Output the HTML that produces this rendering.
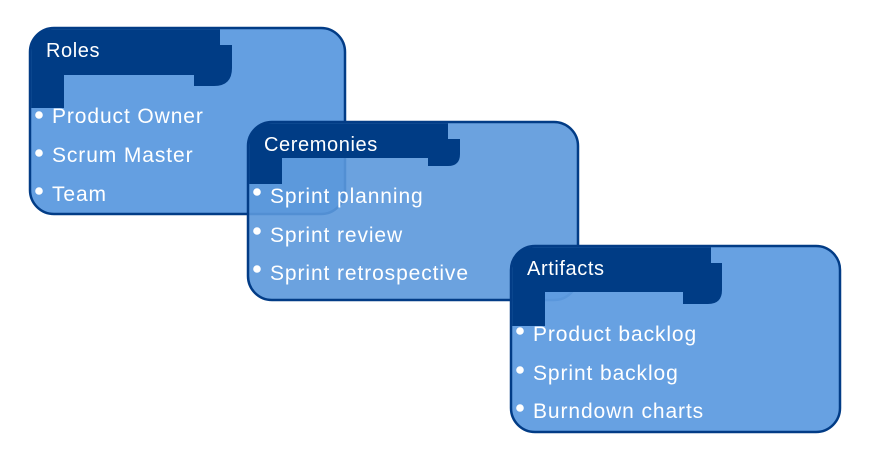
<!DOCTYPE html>
<html><head><meta charset="utf-8"><style>
html,body{margin:0;padding:0;background:#fff;width:872px;height:461px;overflow:hidden}
svg text{font-family:"Liberation Sans",sans-serif;fill:#fff}
.it{font-size:21px;letter-spacing:0.9px}
.hd{font-size:20px;letter-spacing:0.6px}
</style></head><body>
<svg width="872" height="461" viewBox="0 0 872 461">
<g transform="translate(30,28)">
<rect x="0" y="0" width="315" height="186" rx="24" fill="#5f9ce0" fill-opacity="0.97" stroke="#023c86" stroke-width="2.5"/>
<path d="M1.2,24 Q1.2,1.2 24,1.2 H190 V17 H202 V40 Q202,58 184,58 H164 V47 H34 V80 H1.2 Z" fill="#003c85"/>
<text x="16" y="29" class="hd">Roles</text>
<circle cx="9" cy="87" r="3.8" fill="#fff"/><text x="22" y="95" class="it">Product Owner</text>
<circle cx="9" cy="125" r="3.8" fill="#fff"/><text x="22" y="134" class="it">Scrum Master</text>
<circle cx="9" cy="163" r="3.8" fill="#fff"/><text x="22" y="173" class="it">Team</text>
</g>
<g transform="translate(248,122)">
<rect x="0" y="0" width="330" height="178" rx="24" fill="#5b98dc" fill-opacity="0.9" stroke="#023c86" stroke-width="2.5"/>
<path d="M1.2,24 Q1.2,1.2 24,1.2 H200 V17 H212 V32 Q212,44 200,44 H180 V36 H34 V62 H1.2 Z" fill="#003c85"/>
<text x="16" y="29" class="hd">Ceremonies</text>
<circle cx="9" cy="70" r="3.8" fill="#fff"/><text x="22" y="81" class="it">Sprint planning</text>
<circle cx="9" cy="109" r="3.8" fill="#fff"/><text x="22" y="120" class="it">Sprint review</text>
<circle cx="9" cy="147" r="3.8" fill="#fff"/><text x="22" y="158" class="it">Sprint retrospective</text>
</g>
<g transform="translate(511,246)">
<rect x="0" y="0" width="329" height="186" rx="24" fill="#5f9ce0" fill-opacity="0.95" stroke="#023c86" stroke-width="2.5"/>
<path d="M1.2,24 Q1.2,1.2 24,1.2 H200 V17 H211 V44 Q211,58 197,58 H172 V46 H34 V80 H1.2 Z" fill="#003c85"/>
<text x="16" y="29" class="hd">Artifacts</text>
<circle cx="9" cy="85" r="3.8" fill="#fff"/><text x="22" y="95" class="it">Product backlog</text>
<circle cx="9" cy="124" r="3.8" fill="#fff"/><text x="22" y="134" class="it">Sprint backlog</text>
<circle cx="9" cy="162" r="3.8" fill="#fff"/><text x="22" y="172" class="it">Burndown charts</text>
</g>
</svg>
</body></html>
